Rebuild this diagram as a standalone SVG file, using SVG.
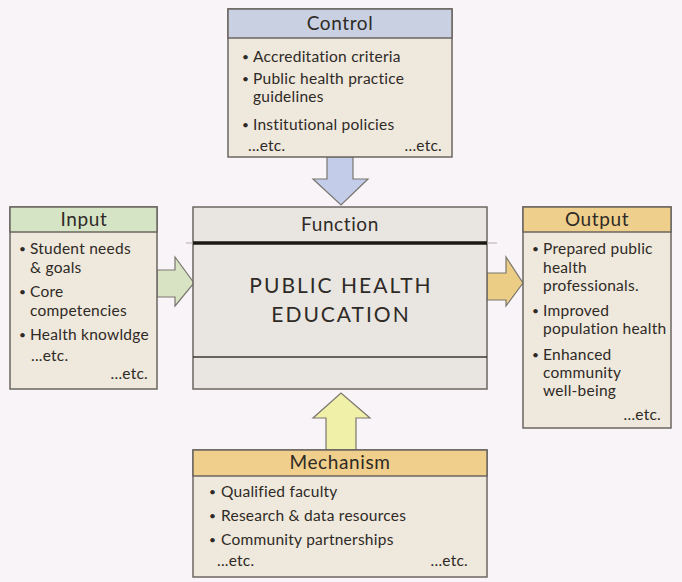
<svg xmlns="http://www.w3.org/2000/svg" width="682" height="582" viewBox="0 0 682 582">
<style>
text{font-family:Lato,"Open Sans","Liberation Sans",sans-serif;fill:#2e2a26}
.hd{font-size:19px;text-anchor:middle;letter-spacing:0.6px}
.it{font-size:15.5px;letter-spacing:0.25px}
.bl{font-size:12px}
.big{font-size:21px;text-anchor:middle;letter-spacing:2px}
.box{stroke:#6b6660;stroke-width:1.5}
.body{fill:#efe8dc}
.arrow{stroke:#7a766f;stroke-width:1.2}
</style>
<rect width="682" height="582" fill="#f9f4f8"/>
<g id="connectors">
<polygon class="arrow" fill="#c3cdea" points="327,157 353,157 353,179 368,179 341,205 313,179 327,179"/>
<polygon class="arrow" fill="#d8e3c4" points="157,270 175,270 175,257 194,283 175,306 175,297 157,297"/>
<polygon class="arrow" fill="#eccd86" points="487,273 506,273 506,257 523,283 506,306 506,300 487,300"/>
<polygon class="arrow" fill="#f0f0a8" points="326,450 356,450 356,418 370,418 341,393 313,418 326,418"/>
</g>
<g id="control">
<rect class="box body" x="228" y="9" width="224" height="148"/>
<rect class="box" fill="#c9d0e2" x="228" y="9" width="224" height="29"/>
<text class="hd" x="340" y="30">Control</text>
<text class="bl" x="242" y="61">•</text><text class="it" x="253" y="62">Accreditation criteria</text>
<text class="bl" x="242" y="83">•</text><text class="it" x="253" y="84">Public health practice</text>
<text class="it" x="253" y="102">guidelines</text>
<text class="bl" x="242" y="129">•</text><text class="it" x="253" y="130">Institutional policies</text>
<text class="it" x="248" y="151">...etc.</text>
<text class="it" x="442" y="151" text-anchor="end">...etc.</text>
</g>
<g id="input">
<rect class="box body" x="10" y="207" width="147" height="182"/>
<rect class="box" fill="#d6e4c6" x="10" y="207" width="147" height="25"/>
<text class="hd" x="84" y="226">Input</text>
<text class="bl" x="19" y="253">•</text><text class="it" x="30" y="254">Student needs</text>
<text class="it" x="30" y="273">&amp; goals</text>
<text class="bl" x="19" y="296">•</text><text class="it" x="30" y="297">Core</text>
<text class="it" x="30" y="316">competencies</text>
<text class="bl" x="19" y="339">•</text><text class="it" x="30" y="340">Health knowldge</text>
<text class="it" x="31" y="361">...etc.</text>
<text class="it" x="148" y="379" text-anchor="end">...etc.</text>
</g>
<g id="function">
<rect class="box" fill="#e9e5e1" x="193" y="207" width="294" height="182"/>
<line x1="186" y1="243" x2="497" y2="243" stroke="#b5b0aa" stroke-width="1"/>
<line x1="193" y1="243" x2="487" y2="243" stroke="#1a1816" stroke-width="3.5"/>
<line x1="193" y1="357" x2="487" y2="357" stroke="#3a3632" stroke-width="1.5"/>
<text class="hd" x="340" y="231">Function</text>
<text class="big" x="341" y="293">PUBLIC HEALTH</text>
<text class="big" x="341" y="322">EDUCATION</text>
</g>
<g id="output">
<rect class="box body" x="523" y="207" width="148" height="221"/>
<rect class="box" fill="#eecf8c" x="523" y="207" width="148" height="25"/>
<text class="hd" x="597" y="226">Output</text>
<text class="bl" x="532" y="253">•</text><text class="it" x="543" y="254">Prepared public</text>
<text class="it" x="543" y="273">health</text>
<text class="it" x="543" y="291">professionals.</text>
<text class="bl" x="532" y="315">•</text><text class="it" x="543" y="316">Improved</text>
<text class="it" x="543" y="334">population health</text>
<text class="bl" x="532" y="359">•</text><text class="it" x="543" y="360">Enhanced</text>
<text class="it" x="543" y="378">community</text>
<text class="it" x="543" y="396">well-being</text>
<text class="it" x="661" y="420" text-anchor="end">...etc.</text>
</g>
<g id="mechanism">
<rect class="box body" x="193" y="450" width="294" height="127"/>
<rect class="box" fill="#f0cf8c" x="193" y="450" width="294" height="26"/>
<text class="hd" x="340" y="469">Mechanism</text>
<text class="bl" x="209" y="496">•</text><text class="it" x="221" y="497">Qualified faculty</text>
<text class="bl" x="209" y="520">•</text><text class="it" x="221" y="521">Research &amp; data resources</text>
<text class="bl" x="209" y="544">•</text><text class="it" x="221" y="545">Community partnerships</text>
<text class="it" x="217" y="566">...etc.</text>
<text class="it" x="468" y="566" text-anchor="end">...etc.</text>
</g>
</svg>
